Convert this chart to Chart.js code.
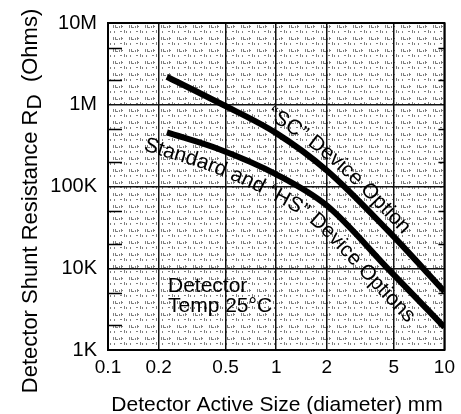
<!DOCTYPE html>
<html>
<head>
<meta charset="utf-8">
<script src="https://cdn.jsdelivr.net/npm/chart.js@4.4.1/dist/chart.umd.min.js"></script>
<style>
  html, body { margin: 0; padding: 0; background: #fff; }
  canvas { display: block; }
</style>
</head>
<body>
<canvas id="shunt-chart" width="461" height="414"></canvas>
<script>
// Axis ticks
const xTicks = [0.1, 0.2, 0.5, 1, 2, 5, 10];
const yTicks = [1e3, 1e4, 1e5, 1e6, 1e7];
const yTickLabels = ['1K', '10K', '100K', '1M', '10M'];
const yMinorTicks = [2e3, 5e3, 2e4, 5e4, 2e5, 5e5, 2e6, 5e6];

// "SC" device option curve (diameter mm -> ohms)
const scSize = [0.224, 0.46, 1, 2, 4.6, 10];
const scOhms = [2.2e6, 1.05e6, 4.5e5, 1.57e5, 2.9e4, 5.2e3];

// Standard and "HS" device options curve
const stdSize = [0.224, 0.45, 1, 2, 4.7, 10];
const stdOhms = [4.6e5, 2.9e5, 1.41e5, 5.85e4, 9.5e3, 1.9e3];

const FONT = '"Liberation Sans", Arial, Helvetica, sans-serif';

function makePattern(ctx) {
  const c = document.createElement('canvas');
  c.width = 16;
  c.height = 12;
  const g = c.getContext('2d');
  g.fillStyle = '#fff';
  g.fillRect(0, 0, 16, 12);
  g.fillStyle = 'rgba(0,0,0,0.5)';
  [[1, 1, 1, 3], [3, 1, 1, 3], [4, 3, 2, 1], [7, 2, 1, 2], [9, 1, 1, 3], [10, 2, 1, 1],
   [2, 7, 1, 2], [8, 7, 2, 1], [12, 6, 1, 3], [14, 7, 1, 2]].forEach(r => g.fillRect(r[0], r[1], r[2], r[3]));
  return ctx.createPattern(c, 'repeat');
}

// Sample the drawn bezier curve of a dataset in pixel space
function curvePoints(chart, idx) {
  const p = chart.getDatasetMeta(idx).data;
  const out = [];
  for (let i = 0; i < p.length - 1; i++) {
    const a = p[i], b = p[i + 1];
    const c1x = a.cp2x ?? a.x, c1y = a.cp2y ?? a.y;
    const c2x = b.cp1x ?? b.x, c2y = b.cp1y ?? b.y;
    for (let k = 0; k < 24; k++) {
      const t = k / 24, u = 1 - t;
      out.push({
        x: u * u * u * a.x + 3 * u * u * t * c1x + 3 * u * t * t * c2x + t * t * t * b.x,
        y: u * u * u * a.y + 3 * u * u * t * c1y + 3 * u * t * t * c2y + t * t * t * b.y
      });
    }
  }
  const last = p[p.length - 1];
  out.push({ x: last.x, y: last.y });
  // extend both ends along their tangents so text may run past the line
  const f0 = out[0], f1 = out[2], l0 = out[out.length - 3], l1 = out[out.length - 1];
  const ext = (from, to, len) => {
    const dx = to.x - from.x, dy = to.y - from.y, d = Math.hypot(dx, dy) || 1;
    return { x: to.x + dx / d * len, y: to.y + dy / d * len };
  };
  const head = [], tail = [];
  for (let k = 6; k >= 1; k--) head.push(ext(f1, f0, k * 10));
  for (let k = 1; k <= 6; k++) tail.push(ext(l0, l1, k * 10));
  return head.concat(out, tail);
}

function offsetPath(pts, off) {
  return pts.map((p, i) => {
    const a = pts[Math.max(0, i - 1)], b = pts[Math.min(pts.length - 1, i + 1)];
    const dx = b.x - a.x, dy = b.y - a.y, d = Math.hypot(dx, dy) || 1;
    return { x: p.x + dy / d * off, y: p.y - dx / d * off };
  });
}

function drawOnPath(ctx, text, path, startX) {
  const cum = [0];
  for (let i = 1; i < path.length; i++) {
    cum.push(cum[i - 1] + Math.hypot(path[i].x - path[i - 1].x, path[i].y - path[i - 1].y));
  }
  const at = d => {
    let i = 1;
    while (i < path.length - 1 && cum[i] < d) i++;
    const a = path[i - 1], b = path[i];
    const t = (d - cum[i - 1]) / ((cum[i] - cum[i - 1]) || 1);
    return { x: a.x + (b.x - a.x) * t, y: a.y + (b.y - a.y) * t, ang: Math.atan2(b.y - a.y, b.x - a.x) };
  };
  // distance along the path where x reaches startX
  let d = 0;
  for (let i = 1; i < path.length; i++) {
    if (path[i].x >= startX) {
      const a = path[i - 1], b = path[i];
      const t = (startX - a.x) / ((b.x - a.x) || 1);
      d = cum[i - 1] + (cum[i] - cum[i - 1]) * Math.max(0, Math.min(1, t));
      break;
    }
  }
  for (const ch of text) {
    const w = ctx.measureText(ch).width;
    const p = at(d + w / 2);
    ctx.save();
    ctx.translate(p.x, p.y);
    ctx.rotate(p.ang);
    ctx.fillText(ch, -w / 2, 0);
    ctx.restore();
    d += w;
  }
}

const decorPlugin = {
  id: 'decor',
  beforeDraw(chart) {
    const { ctx, chartArea: a } = chart;
    ctx.save();
    ctx.fillStyle = makePattern(ctx);
    ctx.fillRect(a.left, a.top, a.right - a.left, a.bottom - a.top);
    ctx.restore();
  },
  afterDatasetsDraw(chart) {
    const { ctx, chartArea: a, scales } = chart;
    ctx.save();
    ctx.fillStyle = '#000';
    ctx.strokeStyle = '#000';

    // minor ticks on left and right edges
    ctx.lineWidth = 1.5;
    yMinorTicks.forEach(v => {
      const y = Math.round(scales.y.getPixelForValue(v)) + 0.5;
      ctx.beginPath();
      ctx.moveTo(a.left, y); ctx.lineTo(a.left + 14, y);
      ctx.moveTo(a.right - 6, y); ctx.lineTo(a.right, y);
      ctx.stroke();
    });

    // frame
    ctx.lineWidth = 2;
    ctx.strokeRect(a.left, a.top, a.right - a.left, a.bottom - a.top);

    // curve labels
    ctx.font = '21px ' + FONT;
    ctx.textBaseline = 'alphabetic';
    ctx.textAlign = 'left';
    const sc = offsetPath(curvePoints(chart, 0), 8);
    drawOnPath(ctx, '\u201CSC\u201D Device Option', sc, 266);
    const std = offsetPath(curvePoints(chart, 1), -24);
    drawOnPath(ctx, 'Standard and \u201CHS\u201D Device Options', std, 143);

    // temperature note
    ctx.fillText('Detector', 168, 292);
    ctx.fillText('Temp 25\u00B0C', 168, 312);

    // x title
    ctx.textAlign = 'center';
    ctx.fillText('Detector Active Size (diameter) mm', 277, 411);

    // y title with subscript D
    ctx.translate(37, 201);
    ctx.rotate(-Math.PI / 2);
    ctx.textAlign = 'left';
    const p1 = 'Detector Shunt Resistance R', p2 = 'D', p3 = '  (Ohms)';
    ctx.font = '22px ' + FONT;
    const w1 = ctx.measureText(p1).width, w3 = ctx.measureText(p3).width;
    ctx.font = '21px ' + FONT;
    const w2 = ctx.measureText(p2).width;
    const x0 = -(w1 + w2 + w3) / 2;
    ctx.fillText(p2, x0 + w1, 4);
    ctx.font = '22px ' + FONT;
    ctx.fillText(p1, x0, 0);
    ctx.fillText(p3, x0 + w1 + w2, 0);
    ctx.restore();
  }
};

const ctx = document.getElementById('shunt-chart');
new Chart(ctx, {
  type: 'line',
  data: {
    datasets: [
      {
        label: 'SC Device Option',
        data: scSize.map((x, i) => ({ x: x, y: scOhms[i] })),
        borderColor: '#000',
        borderWidth: 6,
        pointRadius: 0,
        cubicInterpolationMode: 'monotone',
        fill: false
      },
      {
        label: 'Standard and HS Device Options',
        data: stdSize.map((x, i) => ({ x: x, y: stdOhms[i] })),
        borderColor: '#000',
        borderWidth: 6,
        pointRadius: 0,
        cubicInterpolationMode: 'monotone',
        fill: false
      }
    ]
  },
  options: {
    responsive: false,
    animation: false,
    events: [],
    layout: { padding: { top: 15, right: 11, left: 0, bottom: 0 } },
    plugins: {
      legend: { display: false },
      tooltip: { enabled: false }
    },
    scales: {
      x: {
        type: 'logarithmic',
        min: 0.1,
        max: 10,
        afterBuildTicks: s => { s.ticks = xTicks.map(v => ({ value: v })); },
        afterFit: s => { s.height = 64; },
        ticks: {
          autoSkip: false,
          maxRotation: 0,
          color: '#000',
          padding: 6,
          font: { family: FONT, size: 19 },
          callback: v => String(v)
        },
        grid: { color: '#111', lineWidth: 1.5, drawTicks: false },
        border: { display: false }
      },
      y: {
        type: 'logarithmic',
        min: 1e3,
        max: 1e7,
        afterBuildTicks: s => { s.ticks = yTicks.map(v => ({ value: v })); },
        afterFit: s => { s.width = 108; },
        ticks: {
          autoSkip: false,
          color: '#000',
          padding: 11,
          font: { family: FONT, size: 20 },
          callback: v => yTickLabels[yTicks.indexOf(v)] ?? ''
        },
        grid: { color: '#111', lineWidth: 1.5, drawTicks: false },
        border: { display: false }
      }
    }
  },
  plugins: [decorPlugin]
});
</script>
</body>
</html>
